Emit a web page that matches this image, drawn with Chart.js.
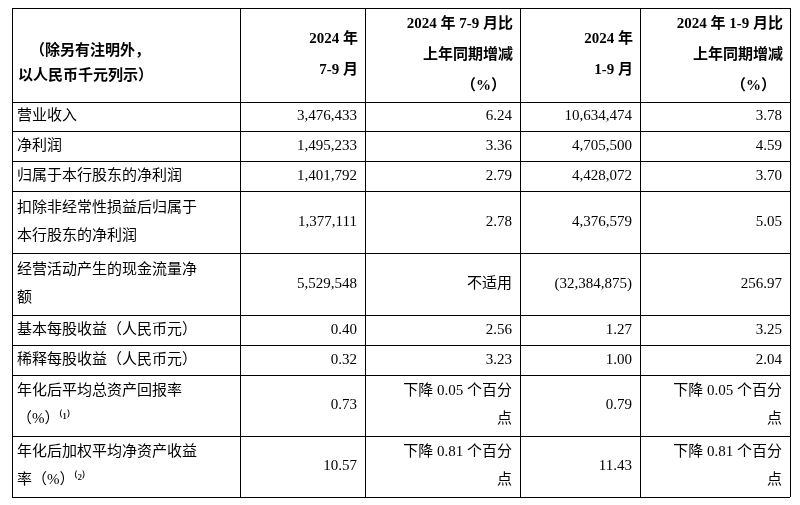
<!DOCTYPE html>
<html><head><meta charset="utf-8">
<script src="https://cdn.jsdelivr.net/npm/chart.js@4.4.1/dist/chart.umd.min.js"></script>
<style>html,body{margin:0;padding:0;background:#fff}#wrap{width:800px;height:505px}</style>
</head><body><div id="wrap"><canvas id="c"></canvas></div>
<script>
// Data
const headerLines = [
  ["（除另有注明外，", "以人民币千元列示）"],
  ["2024 年", "7-9 月"],
  ["2024 年 7-9 月比", "上年同期增减", "（%）"],
  ["2024 年", "1-9 月"],
  ["2024 年 1-9 月比", "上年同期增减", "（%）"]
];
const categories = [
  ["营业收入"],
  ["净利润"],
  ["归属于本行股东的净利润"],
  ["扣除非经常性损益后归属于", "本行股东的净利润"],
  ["经营活动产生的现金流量净", "额"],
  ["基本每股收益（人民币元）"],
  ["稀释每股收益（人民币元）"],
  ["年化后平均总资产回报率", "（%）⁽¹⁾"],
  ["年化后加权平均净资产收益", "率（%）⁽²⁾"]
];
const q3Values = ["3,476,433","1,495,233","1,401,792","1,377,111","5,529,548","0.40","0.32","0.73","10.57"];
const q3Change = [["6.24"],["3.36"],["2.79"],["2.78"],["不适用"],["2.56"],["3.23"],["下降 0.05 个百分","点"],["下降 0.81 个百分","点"]];
const ytdValues = ["10,634,474","4,705,500","4,428,072","4,376,579","(32,384,875)","1.27","1.00","0.79","11.43"];
const ytdChange = [["3.78"],["4.59"],["3.70"],["5.05"],["256.97"],["3.25"],["2.04"],["下降 0.05 个百分","点"],["下降 0.81 个百分","点"]];

// Layout (in scale units == px)
const colEdges = [12, 240, 365, 520, 640, 790];
const rowEdges = [8, 102, 131, 161, 191, 253, 315, 345, 375, 436, 497];

const FONT = '"Liberation Serif","Noto Sans CJK SC",serif';

const tablePlugin = {
  id: 'table',
  afterDraw(chart) {
    const ctx = chart.ctx, xs = chart.scales.x, ys = chart.scales.y;
    const X = v => xs.getPixelForValue(v), Y = v => ys.getPixelForValue(v);
    ctx.save();
    ctx.strokeStyle = '#000'; ctx.lineWidth = 1;
    const L = X(colEdges[0]), R = X(colEdges[colEdges.length-1]);
    const T = Y(rowEdges[0]), B = Y(rowEdges[rowEdges.length-1]);
    rowEdges.forEach(r => { const y = Math.round(Y(r))+0.5; ctx.beginPath(); ctx.moveTo(L,y); ctx.lineTo(R,y); ctx.stroke(); });
    colEdges.forEach(c => { const x = Math.round(X(c))+0.5; ctx.beginPath(); ctx.moveTo(x,T); ctx.lineTo(x,B); ctx.stroke(); });
    ctx.fillStyle = '#000'; ctx.textBaseline = 'middle';
    // header
    ctx.font = 'bold 15px ' + FONT;
    headerLines.forEach((lines, ci) => {
      const top = rowEdges[0], bot = rowEdges[1];
      const lh = ci === 0 ? 25 : 31;
      const center = ci === 0 ? (top + bot) / 2 + 9 : (top + bot) / 2;
      const start = center - (lines.length - 1) * lh / 2;
      lines.forEach((t, li) => {
        const y = Y(start + li * lh);
        if (ci === 0) { ctx.textAlign = 'left'; ctx.fillText(t, X(colEdges[0]) + (li === 0 ? 18 : 6), y); }
        else { ctx.textAlign = 'right'; ctx.fillText(t, X(colEdges[ci+1]) - (li === lines.length-1 && lines.length===3 ? 14 : 7), y); }
      });
    });
    // body
    ctx.font = '15px ' + FONT;
    const lh = 28;
    categories.forEach((lines, ri) => {
      const top = rowEdges[ri+1], bot = rowEdges[ri+2], mid = (top+bot)/2;
      const multi = v => { const s = mid - (v.length-1)*lh/2; return v.map((_,i)=>s+i*lh); };
      ctx.textAlign = 'left';
      multi(lines).forEach((yy,i) => ctx.fillText(lines[i], X(colEdges[0]) + 5, Y(yy)));
      ctx.textAlign = 'right';
      ctx.fillText(q3Values[ri], X(colEdges[2]) - 8, Y(mid));
      ctx.fillText(ytdValues[ri], X(colEdges[4]) - 8, Y(mid));
      multi(q3Change[ri]).forEach((yy,i) => ctx.fillText(q3Change[ri][i], X(colEdges[3]) - 8, Y(yy)));
      multi(ytdChange[ri]).forEach((yy,i) => ctx.fillText(ytdChange[ri][i], X(colEdges[5]) - 8, Y(yy)));
    });
    ctx.restore();
  }
};

new Chart(document.getElementById('c'), {
  type: 'scatter',
  data: { datasets: [{ data: [] }] },
  options: {
    responsive: true, maintainAspectRatio: false, animation: false,
    layout: { padding: 0 },
    plugins: { legend: { display: false }, tooltip: { enabled: false } },
    scales: {
      x: { type: 'linear', min: 0, max: 800, display: false },
      y: { type: 'linear', min: 0, max: 505, reverse: true, display: false }
    }
  },
  plugins: [tablePlugin]
});
</script></body></html>
